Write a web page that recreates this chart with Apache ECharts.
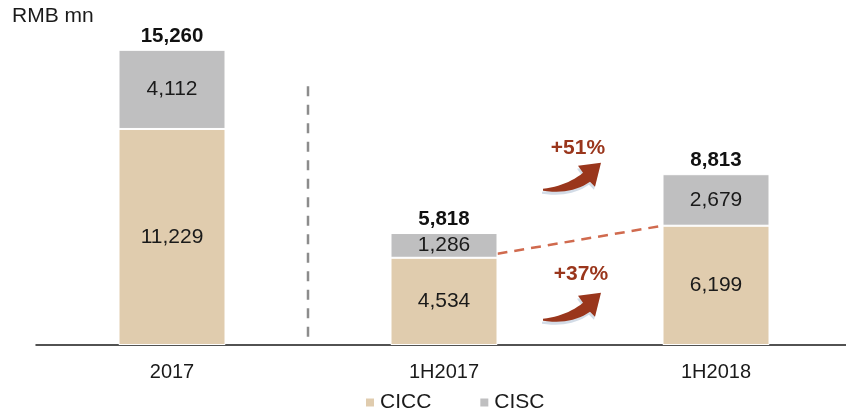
<!DOCTYPE html>
<html>
<head>
<meta charset="utf-8">
<script src="https://cdn.jsdelivr.net/npm/echarts@6/dist/echarts.min.js"></script>
<style>
  html, body { margin: 0; padding: 0; background: #fff; overflow: hidden; }
  /* a little wider than the window: the x axis runs past the right edge */
  #chart { width: 852px; height: 412px; }
</style>
</head>
<body>
<div id="chart"></div>
<script>
// data
const categories = ['2017', '1H2017', '1H2018']
const cicc = [11229, 4534, 6199]
const cisc = [4112, 1286, 2679]
const totals = [15260, 5818, 8813]
const growth = ['+51%', '+37%'] // total growth, CICC growth

const FONT = '"Liberation Sans", Arial, sans-serif'
const BAR_W = 107

const chart = echarts.init(document.getElementById('chart'))

const option = {
  backgroundColor: '#fff',
  animation: false,
  textStyle: { fontFamily: FONT },
  title: {
    text: 'RMB mn',
    left: 7,
    top: 1,
    textStyle: { fontSize: 21, fontWeight: 'normal', color: '#1a1a1a', fontFamily: FONT }
  },
  legend: {
    data: ['CICC', 'CISC'],
    left: 359,
    bottom: -6,
    icon: 'rect',
    itemWidth: 10,
    itemHeight: 10,
    itemGap: 47,
    textStyle: { fontSize: 21, color: '#1a1a1a', fontFamily: FONT }
  },
  grid: { left: 36, right: 0, top: 16, bottom: 67 },
  xAxis: {
    type: 'category',
    data: categories,
    axisLine: { lineStyle: { color: '#1a1a1a', width: 1.5 } },
    axisTick: { show: false },
    axisLabel: { fontSize: 20, color: '#1a1a1a', margin: 17, fontFamily: FONT }
  },
  yAxis: { type: 'value', min: 0, max: 17100, show: false, splitLine: { show: false } },
  series: [
    {
      name: 'CICC',
      type: 'bar',
      stack: 'a',
      barWidth: BAR_W,
      data: cicc,
      itemStyle: { color: '#E0CCAE', borderColor: '#fff', borderWidth: 1 },
      label: {
        show: true,
        position: 'inside',
        fontSize: 21,
        color: '#1a1a1a',
        fontFamily: FONT,
        formatter: p => p.value.toLocaleString('en-US')
      }
    },
    {
      name: 'CISC',
      type: 'bar',
      stack: 'a',
      barWidth: BAR_W,
      data: cisc,
      itemStyle: { color: '#BFBFC0', borderColor: '#fff', borderWidth: 1 },
      label: {
        show: true,
        position: 'inside',
        fontSize: 21,
        color: '#1a1a1a',
        fontFamily: FONT,
        formatter: p => p.value.toLocaleString('en-US')
      }
    },
    {
      // invisible bar on top of the stack, only carries the total label
      name: 'total',
      type: 'bar',
      stack: 'a',
      barWidth: BAR_W,
      data: totals.map(() => 0),
      itemStyle: { color: 'transparent' },
      label: {
        show: true,
        position: 'top',
        distance: 3,
        fontSize: 20.5,
        fontWeight: 'bold',
        color: '#111',
        fontFamily: FONT,
        formatter: p => totals[p.dataIndex].toLocaleString('en-US')
      }
    }
  ]
}
chart.setOption(option)

// quadratic curve -> list of points
function quad (p0, c, p1, n) {
  const pts = []
  for (let i = 0; i <= n; i++) {
    const t = i / n
    const u = 1 - t
    pts.push([u * u * p0[0] + 2 * u * t * c[0] + t * t * p1[0], u * u * p0[1] + 2 * u * t * c[1] + t * t * p1[1]])
  }
  return pts
}
// curved arrow outline, tail at local (0,0), tip up-right
const ARROW_PTS = [].concat(
  quad([0, 0], [24, -3], [40, -16], 12),
  [[35, -23], [58, -26], [52, -2]],
  quad([47, -7], [28, 6], [0, 2], 12)
)
function arrow (x, y) {
  return {
    type: 'group',
    x: x,
    y: y,
    children: [
      { type: 'polygon', x: -1, y: 3, shape: { points: ARROW_PTS }, style: { fill: '#D3DCE7' } },
      { type: 'polygon', shape: { points: ARROW_PTS }, style: { fill: '#9A361C' } }
    ]
  }
}

function drawNotes () {
  const px = (i, v) => chart.convertToPixel({ seriesIndex: 0 }, [i, v])
  const half = BAR_W / 2
  // divider between full year and half years
  const a = px(0, 0)
  const b = px(1, 0)
  const midX = (a[0] + b[0]) / 2
  const divTop = px(0, 13450)[1]
  // connector between CICC tops
  const l = px(1, cicc[1])
  const r = px(2, cicc[2])
  const gx = (l[0] + r[0]) / 2
  const g1 = px(1, 10250)
  const g2 = px(1, 3700)
  chart.setOption({
    graphic: [
      {
        type: 'line',
        shape: { x1: midX, y1: divTop, x2: midX, y2: a[1] - 6 },
        style: { stroke: '#8C8C8C', lineWidth: 2.5, lineDash: [10, 8.5] }
      },
      {
        type: 'line',
        shape: { x1: l[0] + half, y1: l[1] - 4, x2: r[0] - half, y2: r[1] },
        style: { stroke: '#D06A4E', lineWidth: 2.5, lineDash: [10, 7] }
      },
      {
        type: 'text',
        x: gx - 2,
        y: g1[1],
        style: { text: growth[0], fill: '#9A361C', font: 'bold 21px ' + FONT, align: 'center', verticalAlign: 'middle' }
      },
      arrow(gx - 37, g1[1] + 41),
      {
        type: 'text',
        x: gx + 1,
        y: g2[1],
        style: { text: growth[1], fill: '#9A361C', font: 'bold 21px ' + FONT, align: 'center', verticalAlign: 'middle' }
      },
      arrow(gx - 37, g2[1] + 45)
    ]
  })
}
drawNotes()
</script>
</body>
</html>
